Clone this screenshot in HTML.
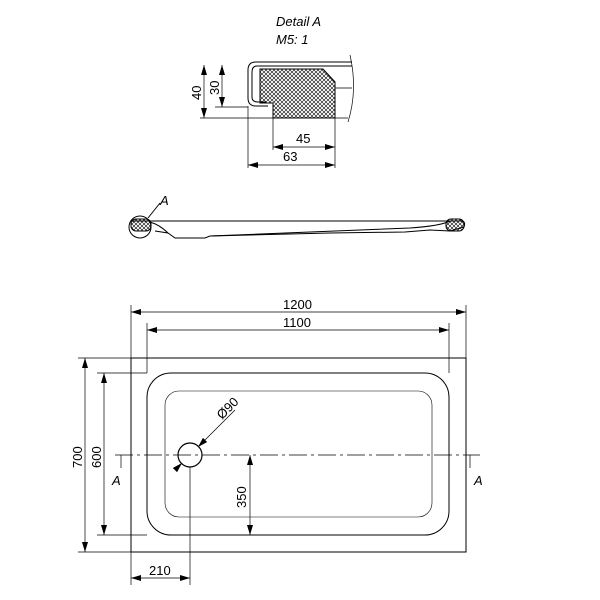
<!DOCTYPE html>
<html><head><style>body{margin:0;background:#fff}svg{display:block}</style></head><body>
<svg width="600" height="600" viewBox="0 0 600 600" xmlns="http://www.w3.org/2000/svg" font-family="Liberation Sans, sans-serif" fill="none" stroke="#000">
<defs>
<pattern id="x" width="4" height="4" patternUnits="userSpaceOnUse"><path d="M0 0L4 4M4 0L0 4" stroke="#000" stroke-width="0.6"/></pattern>
<marker id="a" viewBox="0 0 10 6" refX="10" refY="3" markerWidth="10" markerHeight="6" orient="auto-start-reverse" markerUnits="userSpaceOnUse"><path d="M0 0L10 3L0 6z" fill="#000" stroke="none"/></marker>
</defs>
<g fill="#000" stroke="none" font-style="italic" font-size="13"><text x="276" y="26">Detail  A</text><text x="276" y="44">M5: 1</text></g>
<!-- detail profile -->
<g stroke-width="1">
<path d="M352 62 L256 62 Q248 62 248 70 L248 98 Q248 106 256 106 L268 106"/>
<path d="M352 66 L257 66 Q252 66 252 72 L252 97 Q252 102 258 102 L266 102"/>
<path d="M260 69 L323 69 L335 82 L335 118 L273 118 L273 103 L260 103 Z" fill="url(#x)"/>
<path d="M335 88 L352 88 M335 118 L348 118 M350 55 Q358 90 348 122" stroke-width="0.7"/>
<path d="M273 118 L200 118 M248 107 L215 107 M248 106 L248 168 M273 118 L273 150 M335 118 L335 168" stroke-width="0.7"/>
<line x1="204" y1="65" x2="204" y2="118" marker-start="url(#a)" marker-end="url(#a)" stroke-width="0.7"/>
<line x1="222" y1="65" x2="222" y2="107" marker-start="url(#a)" marker-end="url(#a)" stroke-width="0.7"/>
<line x1="273" y1="147" x2="335" y2="147" marker-start="url(#a)" marker-end="url(#a)" stroke-width="0.7"/>
<line x1="248" y1="165" x2="335" y2="165" marker-start="url(#a)" marker-end="url(#a)" stroke-width="0.7"/>
</g>
<g fill="#000" stroke="none" font-size="13">
<text x="296" y="143">45</text><text x="283" y="161">63</text>
<text transform="translate(201 100) rotate(-90)">40</text>
<text transform="translate(219 95) rotate(-90)">30</text>
</g>
<!-- side view -->
<g stroke-width="1">
<path d="M131 221 L462 221 Q466 222 464 227 L450 231 L430 230 L405 232 L330 233 L210 236 L205 238 L175 238 L168 233 L155 231"/>
<path d="M150 222 Q160 225 168 233 M450 221 Q440 226 410 228 L210 236"/>
<rect x="131" y="219" width="20" height="12" rx="5" fill="url(#x)"/>
<rect x="446" y="219" width="18" height="12" rx="5" fill="url(#x)"/>
<circle cx="140" cy="227" r="11"/>
<line x1="148" y1="218" x2="160" y2="203"/>
</g>
<text x="160" y="205" font-size="13" font-style="italic" fill="#000" stroke="none">A</text>
<!-- plan -->
<g stroke-width="1">
<rect x="131" y="358" width="335" height="194"/>
<rect x="147" y="373" width="302" height="162" rx="24"/>
<rect x="165" y="391" width="267" height="126" rx="14" stroke-width="0.6"/>
<circle cx="190" cy="455" r="12" stroke-width="1.2"/>
</g>
<g stroke-width="0.7">
<line x1="115" y1="455" x2="480" y2="455" stroke-dasharray="18 4 3 4"/>
<line x1="121" y1="455" x2="121" y2="468"/><line x1="470" y1="455" x2="470" y2="468"/>
<line x1="131" y1="358" x2="131" y2="305"/><line x1="466" y1="358" x2="466" y2="305"/>
<line x1="147" y1="373" x2="147" y2="323"/><line x1="449" y1="373" x2="449" y2="323"/>
<line x1="131" y1="312" x2="466" y2="312" marker-start="url(#a)" marker-end="url(#a)"/>
<line x1="147" y1="330" x2="449" y2="330" marker-start="url(#a)" marker-end="url(#a)"/>
<line x1="131" y1="358" x2="78" y2="358"/><line x1="131" y1="552" x2="78" y2="552"/>
<line x1="147" y1="373" x2="97" y2="373"/><line x1="147" y1="535" x2="97" y2="535"/>
<line x1="85" y1="358" x2="85" y2="552" marker-start="url(#a)" marker-end="url(#a)"/>
<line x1="104" y1="373" x2="104" y2="535" marker-start="url(#a)" marker-end="url(#a)"/>
<line x1="250" y1="455" x2="250" y2="535" marker-start="url(#a)" marker-end="url(#a)"/>
<line x1="131" y1="552" x2="131" y2="585"/><line x1="190" y1="467" x2="190" y2="585"/>
<line x1="131" y1="578" x2="190" y2="578" marker-start="url(#a)" marker-end="url(#a)"/>
<line x1="176" y1="469" x2="182" y2="463" marker-end="url(#a)"/>
<line x1="235" y1="410" x2="198" y2="447" marker-end="url(#a)"/>
</g>
<g fill="#000" stroke="none" font-size="13">
<text x="283" y="309">1200</text><text x="283" y="327">1100</text>
<text transform="translate(82 468) rotate(-90)">700</text>
<text transform="translate(101 468) rotate(-90)">600</text>
<text transform="translate(246 508) rotate(-90)">350</text>
<text transform="translate(222 420) rotate(-45)">Ø90</text>
<text x="149" y="575">210</text>
<text x="112" y="485" font-style="italic">A</text><text x="474" y="485" font-style="italic">A</text>
</g>
</svg>
</body></html>
